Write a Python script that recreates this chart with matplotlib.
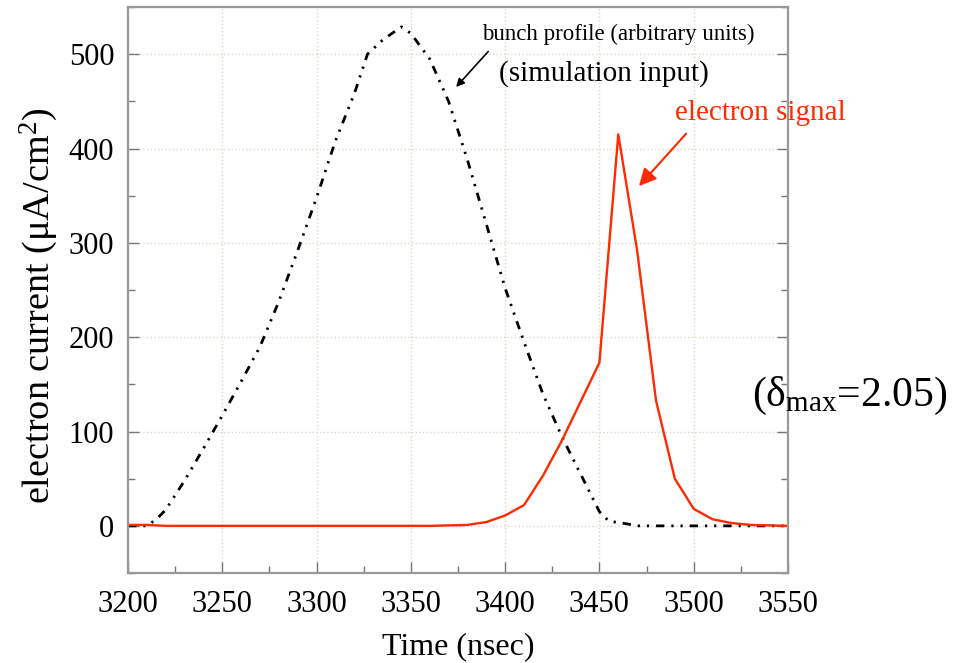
import matplotlib.pyplot as plt
from matplotlib.ticker import MultipleLocator

plt.rcParams['font.family'] = ['Liberation Serif', 'DejaVu Serif']
plt.rcParams['mathtext.fontset'] = 'custom'
plt.rcParams['mathtext.rm'] = 'Liberation Serif'
plt.rcParams['mathtext.it'] = 'Liberation Serif:italic'

# bunch profile (arbitrary units)
bunch_t = [3200, 3210, 3215, 3220, 3230, 3240, 3250, 3260, 3270, 3280, 3290,
           3300, 3310, 3320, 3327, 3335, 3345, 3350, 3360, 3370, 3380, 3390,
           3400, 3410, 3420, 3430, 3440, 3450, 3455, 3465, 3470, 3550]
bunch_y = [0, 0, 7, 17, 48, 82, 117, 153, 190, 238, 292,
           348, 408, 458, 500, 515, 529, 522, 495, 450, 388, 320,
           252, 195, 140, 95, 55, 15, 5, 2, 0, 0]

# electron signal
sig_t = [3200, 3210, 3220, 3360, 3370, 3380, 3390, 3400, 3410, 3420, 3430,
         3450, 3460, 3470, 3480, 3490, 3500, 3510, 3520, 3530, 3550]
sig_y = [1, 1, 0, 0, 0.5, 1, 4, 11, 22, 53, 90,
         173, 415, 292, 133, 50, 18, 7, 3, 1, 0]

fig = plt.figure(figsize=(9.64, 6.63), dpi=100)
ax = fig.add_axes([0.1328, 0.1357, 0.6846, 0.8537])

ax.plot(bunch_t, bunch_y, color='black', lw=2,
        dashes=(3, 2.5, 0.8, 2.5, 0.8, 2.5))
ax.plot(sig_t, sig_y, color='#ff2a00', lw=1.7)

ax.set_xlim(3200, 3550)
ax.set_ylim(-50, 550)
ax.xaxis.set_major_locator(MultipleLocator(50))
ax.xaxis.set_minor_locator(MultipleLocator(25))
ax.yaxis.set_major_locator(MultipleLocator(100))
ax.yaxis.set_minor_locator(MultipleLocator(50))
ax.tick_params(which='both', direction='in', labelsize=22, color='#777777',
               right=True, top=False)
ax.tick_params(which='major', length=8, width=1)
ax.tick_params(which='minor', length=5, width=1)
ax.tick_params(axis='x', pad=12)
ax.tick_params(axis='y', pad=10)
for s in ax.spines.values():
    s.set_color('#999999')
    s.set_linewidth(1.6)

ax.grid(True, which='major', ls=':', color='#d8d8c8', lw=1)
ax.set_axisbelow(True)

ax.set_xlabel('Time (nsec)', fontsize=23, labelpad=10)
ax.set_ylabel(r'electron current ($\mathregular{\mu}$A/cm$^2$)', fontsize=27.5)
ax.yaxis.set_label_coords(-0.103, 0.472)

ax.text(3388, 510, 'bunch profile (arbitrary units)', fontsize=16.5,
        ha='left', va='bottom')
ax.text(3397, 465, '(simulation input)', fontsize=21, ha='left', va='bottom')
ax.annotate('', xy=(3373, 463), xytext=(3392, 505),
            arrowprops=dict(arrowstyle='-|>', color='black', lw=1.2,
                            mutation_scale=12))
ax.text(3490, 438, 'electron signal', fontsize=21, color='#ff2a00',
        ha='left', va='center')
ax.annotate('', xy=(3470, 358), xytext=(3497, 418),
            arrowprops=dict(arrowstyle='-|>', color='#ff2a00', lw=1.5,
                            mutation_scale=26))
ax.text(3531, 138, r'($\mathregular{\delta_{max}}$=2.05)', fontsize=30,
        ha='left', va='center', clip_on=False)

fig.savefig('out.png', dpi=100)
